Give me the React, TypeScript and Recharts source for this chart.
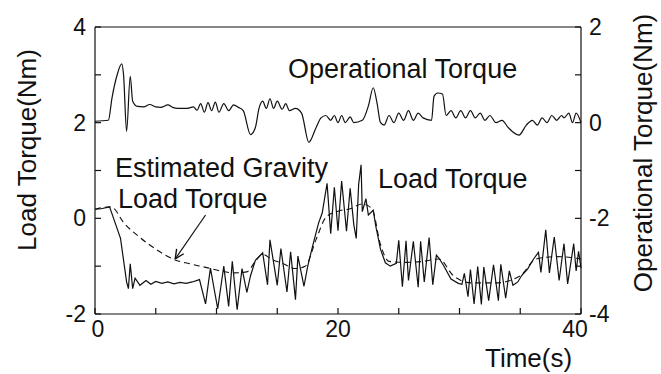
import React from "react";
import { LineChart, Line, XAxis, YAxis, ReferenceLine } from "recharts";

// Load torque (Nm, left axis)
const loadTime = [0, 0.5, 1.2, 2.1, 2.6, 2.75, 2.9, 3.1, 3.3, 3.7, 4.2, 4.6, 5.0, 5.5, 6.0, 6.5, 7.0, 7.5, 8.0, 8.6, 9.1, 9.5, 10.1, 10.6, 11.0, 11.3, 11.7, 12.1, 12.5, 12.8, 13.2, 13.8, 14.2, 14.4, 15.0, 15.3, 15.8, 16.1, 16.5, 16.7, 17.2, 17.5, 17.9, 18.4, 18.7, 19.1, 19.4, 19.7, 20.0, 20.3, 20.7, 21.0, 21.3, 21.5, 21.7, 21.9, 22.0, 22.3, 22.5, 22.9, 23.1, 23.5, 23.9, 24.3, 24.8, 25.0, 25.3, 25.6, 25.8, 26.2, 26.6, 26.8, 27.1, 27.5, 27.8, 28.1, 28.3, 28.7, 29.3, 29.9, 30.2, 30.4, 30.7, 30.9, 31.2, 31.5, 31.8, 32.0, 32.4, 32.8, 33.2, 33.4, 33.8, 34.1, 34.4, 34.8, 35.1, 35.6, 36.1, 36.5, 36.7, 37.1, 37.4, 37.8, 38.2, 38.6, 38.9, 39.4, 39.6, 39.8, 40];
const loadValue = [0.19, 0.2, 0.24, -0.42, -1.33, -1.47, -0.95, -1.47, -1.25, -1.4, -1.3, -1.38, -1.32, -1.36, -1.33, -1.37, -1.34, -1.36, -1.33, -1.28, -1.79, -1.04, -1.89, -1.0, -1.84, -0.9, -1.91, -1.05, -1.55, -1.2, -0.88, -0.72, -1.39, -0.45, -1.4, -0.63, -1.54, -0.7, -1.7, -0.79, -1.42, -1.01, -0.59, -0.1, 0.11, 0.73, -0.32, 0.65, -0.26, 0.78, -0.27, 0.63, -0.13, -0.42, 0.71, 1.12, 0.14, 0.41, 0.07, 0.17, -0.15, -0.65, -0.93, -1.0, -0.94, -0.46, -1.43, -0.47, -1.3, -0.48, -1.44, -0.48, -1.33, -0.4, -1.39, -0.77, -0.83, -0.99, -1.27, -1.36, -1.38, -1.15, -1.64, -1.07, -1.79, -1.01, -1.8, -1.02, -1.72, -0.97, -1.72, -0.96, -1.67, -1.1, -1.4, -1.33, -1.2, -1.06, -0.85, -0.71, -1.13, -0.24, -1.14, -0.39, -1.3, -0.53, -1.37, -0.53, -1.1, -0.69, -1.04];

// Estimated gravity load torque (Nm, left axis, dashed)
const gravTime = [0, 1.2, 1.5, 2.3, 3.7, 5.1, 6.4, 7.8, 9.2, 10.3, 11.5, 12.5, 13.2, 13.8, 14.5, 15.5, 16.5, 17.3, 18.2, 19.0, 20, 21, 22, 22.8, 23.5, 24.2, 25.5, 27, 28.3, 29.5, 31, 33, 35, 36.3, 38, 40];
const gravValue = [0.19, 0.24, 0.22, -0.07, -0.4, -0.66, -0.85, -0.95, -1.03, -1.1, -1.14, -1.12, -0.9, -0.75, -0.85, -0.95, -1.05, -1.0, -0.44, 0.02, 0.15, 0.2, 0.3, 0.2, -0.55, -0.9, -0.92, -0.9, -0.85, -1.2, -1.35, -1.35, -1.2, -0.85, -0.8, -0.85];

// Operational torque (Nm, right axis)
const opTime = [0, 1.1, 1.4, 1.8, 2.2, 2.35, 2.6, 2.9, 3.1, 3.5, 4.0, 4.5, 5.0, 5.4, 6.0, 6.4, 6.8, 7.6, 8.1, 8.4, 8.7, 9.0, 9.3, 9.6, 9.9, 10.2, 10.6, 11.0, 11.4, 11.8, 12.2, 12.8, 13.2, 13.5, 13.8, 14.1, 14.4, 14.7, 15.0, 15.4, 15.7, 16.0, 16.5, 17.0, 17.6, 18.2, 18.6, 19.0, 19.4, 19.7, 20.0, 20.3, 20.6, 21.0, 21.3, 22.0, 22.5, 22.9, 23.2, 23.5, 23.8, 24.2, 24.6, 25.0, 25.4, 25.8, 26.2, 26.6, 27.0, 27.7, 27.9, 28.2, 28.6, 28.9, 29.3, 29.7, 30.1, 30.5, 30.9, 31.3, 31.7, 32.1, 32.5, 33.0, 33.5, 34.0, 34.9, 35.5, 36.0, 36.4, 36.8, 37.2, 37.6, 38.0, 38.4, 38.6, 39.0, 39.3, 39.6, 40];
const opValue = [0.03, 0.05, 0.52, 0.98, 1.23, 1.0, -0.18, 0.97, 0.45, 0.34, 0.33, 0.38, 0.33, 0.32, 0.37, 0.32, 0.3, 0.3, 0.33, 0.26, 0.4, 0.22, 0.42, 0.25, 0.43, 0.22, 0.4, 0.25, 0.37, 0.32, 0.25, -0.25, -0.1, 0.3, 0.45, 0.3, 0.5, 0.3, 0.45, 0.28, 0.4, 0.25, 0.3, 0.2, -0.41, -0.1, 0.1, 0.15, 0.05, 0.15, 0.0, 0.15, 0.0, 0.12, 0.0, 0.05, 0.35, 0.73, 0.43, 0.0, -0.05, 0.15, 0.0, 0.2, 0.05, 0.25, 0.05, 0.2, 0.1, 0.05, 0.55, 0.62, 0.6, 0.15, 0.25, 0.1, 0.25, 0.1, 0.25, 0.1, 0.2, 0.05, 0.15, 0.0, 0.05, -0.1, -0.26, -0.05, 0.05, -0.05, 0.1, 0.0, 0.15, 0.05, 0.15, 0.1, 0.2, 0.0, 0.2, 0.0];

const timeTicks = [0, 5, 10, 15, 20, 25, 30, 35, 40];
const timeLabels = [0, 20, 40];
const leftTicks = [-2, -1, 0, 1, 2, 3, 4];
const leftLabels = [-2, 0, 2, 4];
const rightTicks = [-4, -3, -2, -1, 0, 1, 2];
const rightLabels = [-4, -2, 0, 2];

const loadData = loadTime.map((t, i) => ({ t, v: loadValue[i] }));
const gravData = gravTime.map((t, i) => ({ t, v: gravValue[i] }));
const opData = opTime.map((t, i) => ({ t, v: opValue[i] }));

const FONT = "'Liberation Sans', Arial, Helvetica, sans-serif";
const INK = "#111";

const BottomTick = (props: any) => {
  const { x, y, payload } = props;
  const v = payload.value;
  const lx = v === 40 ? x - 6 : v === 0 ? x + 3 : x;
  return (
    <g>
      <line x1={x} x2={x} y1={y} y2={y - 6} stroke={INK} strokeWidth={1.2} />
      {timeLabels.includes(v) && (
        <text x={lx} y={y + 23} textAnchor="middle" fontSize={23} fontFamily={FONT} fill={INK}>
          {v}
        </text>
      )}
    </g>
  );
};

const TopTick = (props: any) => {
  const { x, y } = props;
  return <line x1={x} x2={x} y1={y} y2={y + 6} stroke={INK} strokeWidth={1.2} />;
};

const LeftTick = (props: any) => {
  const { x, y, payload } = props;
  const v = payload.value;
  return (
    <g>
      <line x1={x} x2={x + 6} y1={y} y2={y} stroke={INK} strokeWidth={1.2} />
      {leftLabels.includes(v) && (
        <text x={x - 9} y={y + 8} textAnchor="end" fontSize={23} fontFamily={FONT} fill={INK}>
          {v}
        </text>
      )}
    </g>
  );
};

const RightTick = (props: any) => {
  const { x, y, payload } = props;
  const v = payload.value;
  return (
    <g>
      <line x1={x} x2={x - 6} y1={y} y2={y} stroke={INK} strokeWidth={1.2} />
      {rightLabels.includes(v) && (
        <text x={x + 8} y={y + 8} textAnchor="start" fontSize={23} fontFamily={FONT} fill={INK}>
          {v}
        </text>
      )}
    </g>
  );
};

export default function App() {
  return (
    <div style={{ position: "absolute", left: 0, top: 0, background: "#fff" }}>
      <LineChart width={661} height={374} margin={{ top: 0, right: 0, bottom: 0, left: 0 }}>
        <XAxis
          xAxisId="bottom"
          type="number"
          dataKey="t"
          domain={[0, 40]}
          ticks={timeTicks}
          interval={0}
          height={60}
          tickSize={0}
          tickMargin={0}
          tick={BottomTick}
          stroke={INK}
          strokeWidth={1.2}
          allowDuplicatedCategory={false}
        />
        <XAxis
          xAxisId="top"
          orientation="top"
          type="number"
          dataKey="t"
          domain={[0, 40]}
          ticks={timeTicks}
          interval={0}
          height={27}
          tickSize={0}
          tickMargin={0}
          tick={TopTick}
          stroke={INK}
          strokeWidth={1.2}
        />
        <YAxis
          yAxisId="left"
          type="number"
          domain={[-2, 4]}
          ticks={leftTicks}
          interval={0}
          width={95}
          tickSize={0}
          tickMargin={0}
          tick={LeftTick}
          stroke={INK}
          strokeWidth={1.2}
        />
        <YAxis
          yAxisId="right"
          orientation="right"
          type="number"
          domain={[-4, 2]}
          ticks={rightTicks}
          interval={0}
          width={80}
          tickSize={0}
          tickMargin={0}
          tick={RightTick}
          stroke={INK}
          strokeWidth={1.2}
        />
        <Line
          data={gravData}
          xAxisId="bottom"
          yAxisId="left"
          dataKey="v"
          type="monotone"
          stroke={INK}
          strokeWidth={1.1}
          strokeDasharray="6 4"
          dot={false}
          isAnimationActive={false}
        />
        <Line
          data={loadData}
          xAxisId="bottom"
          yAxisId="left"
          dataKey="v"
          type="linear"
          stroke={INK}
          strokeWidth={1.2}
          dot={false}
          isAnimationActive={false}
        />
        <Line
          data={opData}
          xAxisId="bottom"
          yAxisId="right"
          dataKey="v"
          type="monotone"
          stroke={INK}
          strokeWidth={1.2}
          dot={false}
          isAnimationActive={false}
        />
        <ReferenceLine
          xAxisId="bottom"
          yAxisId="left"
          segment={[{ x: 9.1, y: 0.07 }, { x: 6.6, y: -0.85 }]}
          stroke={INK}
          strokeWidth={1.2}
          ifOverflow="visible"
        />
        <ReferenceLine
          xAxisId="bottom"
          yAxisId="left"
          segment={[{ x: 6.6, y: -0.85 }, { x: 7.3, y: -0.74 }]}
          stroke={INK}
          strokeWidth={1.4}
          ifOverflow="visible"
        />
        <ReferenceLine
          xAxisId="bottom"
          yAxisId="left"
          segment={[{ x: 6.6, y: -0.85 }, { x: 6.72, y: -0.64 }]}
          stroke={INK}
          strokeWidth={1.4}
          ifOverflow="visible"
        />
        <text x={288} y={78} fontSize={27} fontFamily={FONT} fill={INK}>Operational Torque</text>
        <text x={115} y={177} fontSize={27} fontFamily={FONT} fill={INK}>Estimated Gravity</text>
        <text x={118} y={208} fontSize={27} fontFamily={FONT} fill={INK}>Load Torque</text>
        <text x={378} y={188} fontSize={27} fontFamily={FONT} fill={INK}>Load Torque</text>
        <text x={485} y={367} fontSize={26} fontFamily={FONT} fill={INK}>Time(s)</text>
        <text
          x={27}
          y={150}
          fontSize={26}
          fontFamily={FONT}
          fill={INK}
          textAnchor="middle"
          dominantBaseline="central"
          transform="rotate(-90 27 150)"
        >
          Load Torque(Nm)
        </text>
        <text
          x={643}
          y={153}
          fontSize={26}
          fontFamily={FONT}
          fill={INK}
          textAnchor="middle"
          dominantBaseline="central"
          transform="rotate(-90 643 153)"
        >
          Operational Torque(Nm)
        </text>
      </LineChart>
    </div>
  );
}
